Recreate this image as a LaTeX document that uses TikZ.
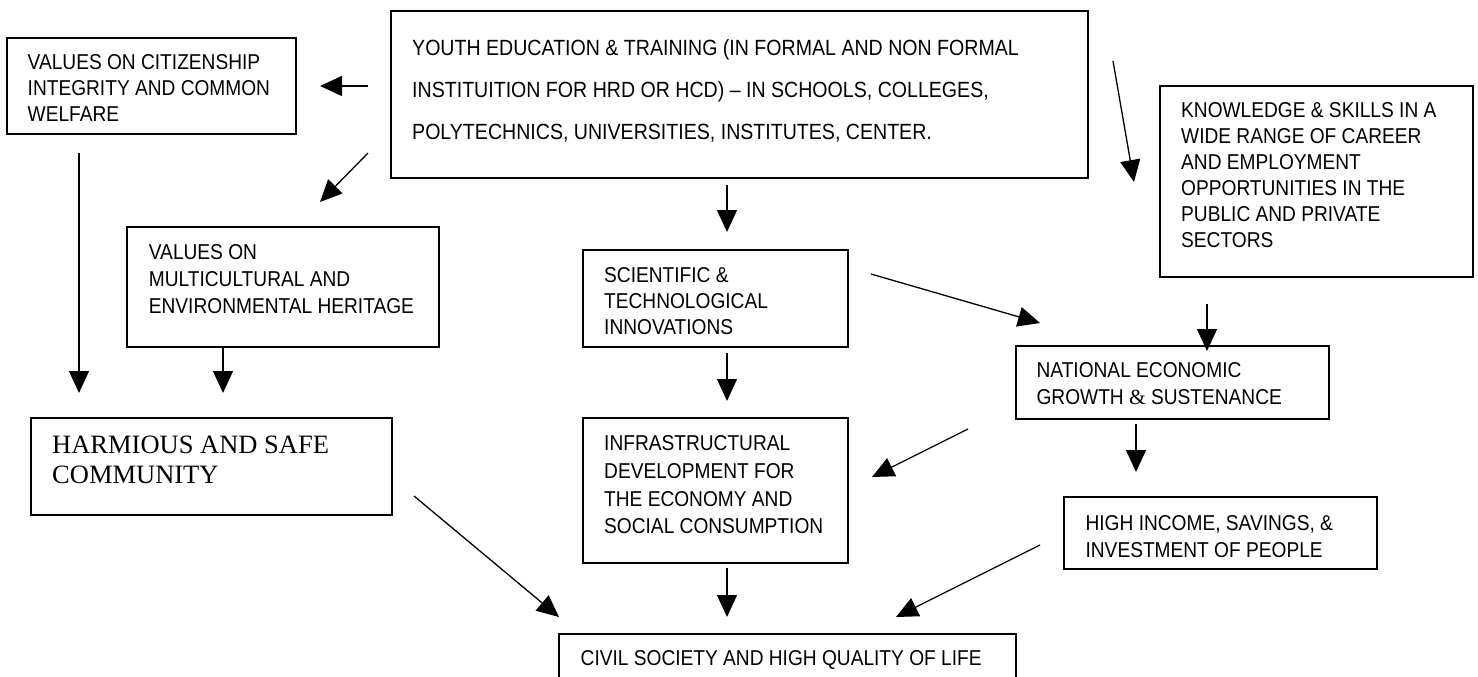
\documentclass[tikz,border=0pt]{standalone}
\usepackage{fontspec}
\usetikzlibrary{arrows.meta}
\newfontfamily\boxsans[FakeStretch=0.89]{Liberation Sans}
\newfontfamily\boxserif{Liberation Serif}
\begin{document}
\begin{tikzpicture}[x=1pt,y=-1pt,
  box/.style={draw, line width=1.4pt, inner sep=0pt},
  txt/.style={anchor=north west, inner sep=0pt, align=left,
    font=\boxsans\fontsize{21.5}{26}\selectfont},
  arr/.style={line width=1.3pt, -{Triangle[length=22pt,width=20pt]}}]
\clip (0,0) rectangle (1478,677);

% boxes
\node[box, minimum width=289pt, minimum height=96pt]  (values) at (151.5,86) {};
\node[box, minimum width=697pt, minimum height=167pt] (youth)  at (739.5,94.5) {};
\node[box, minimum width=313pt, minimum height=191pt] (know)   at (1316.5,181.5) {};
\node[box, minimum width=312pt, minimum height=120pt] (multi)  at (283,287) {};
\node[box, minimum width=265pt, minimum height=97pt]  (sci)    at (715.5,298.5) {};
\node[box, minimum width=313pt, minimum height=73pt]  (natl)   at (1172.5,382.5) {};
\node[box, minimum width=361pt, minimum height=97pt]  (harm)   at (211.5,466.5) {};
\node[box, minimum width=265pt, minimum height=145pt] (infra)  at (715.5,490.5) {};
\node[box, minimum width=313pt, minimum height=72pt]  (high)   at (1220.5,533) {};
\node[box, minimum width=457pt, minimum height=86pt]  (civil)  at (787.5,677) {};

% box texts
\node[txt] (values-t) at (27.5,54) {VALUES ON CITIZENSHIP\\INTEGRITY AND COMMON\\WELFARE};
\node[txt, font=\boxsans\fontsize{22}{41.7}\selectfont] (youth-t) at (412,39.8)
  {YOUTH EDUCATION \& TRAINING (IN FORMAL AND NON FORMAL\\
   INSTITUITION FOR HRD OR HCD) – IN SCHOOLS, COLLEGES,\\
   POLYTECHNICS, UNIVERSITIES, INSTITUTES, CENTER.};
\node[txt] (know-t) at (1181,102.3) {KNOWLEDGE \& SKILLS IN A\\WIDE RANGE OF CAREER\\AND EMPLOYMENT\\OPPORTUNITIES IN THE\\PUBLIC AND PRIVATE\\SECTORS};
\node[txt, font=\boxsans\fontsize{21.5}{27.2}\selectfont] (multi-t) at (148.7,244) {VALUES ON\\MULTICULTURAL AND\\ENVIRONMENTAL HERITAGE};
\node[txt] (sci-t) at (604,267.3) {SCIENTIFIC \&\\TECHNOLOGICAL\\INNOVATIONS};
\node[txt, font=\boxsans\fontsize{21.5}{26.7}\selectfont] (natl-t) at (1036.4,362.3) {NATIONAL ECONOMIC\\GROWTH {\boxserif\&} SUSTENANCE};
\node[txt, font=\boxserif\fontsize{26.5}{30}\selectfont] (harm-t) at (52,436.2) {HARMIOUS AND SAFE\\COMMUNITY};
\node[txt, font=\boxsans\fontsize{21.5}{27.6}\selectfont] (infra-t) at (604,435.6) {INFRASTRUCTURAL\\DEVELOPMENT FOR\\THE ECONOMY AND\\SOCIAL CONSUMPTION};
\node[txt, font=\boxsans\fontsize{21.5}{27.3}\selectfont] (high-t) at (1085.4,515) {HIGH INCOME, SAVINGS, \&\\INVESTMENT OF PEOPLE};
\node[txt] (civil-t) at (580.5,650.6) {CIVIL SOCIETY AND HIGH QUALITY OF LIFE};

% arrow end points
\coordinate (a1s) at (368,86);    \coordinate (a1e) at (320,86);
\coordinate (a2s) at (368,153);   \coordinate (a2e) at (320,202);
\coordinate (a3s) at (727,185);   \coordinate (a3e) at (727,232);
\coordinate (a4s) at (1113,61);   \coordinate (a4e) at (1134,182);
\coordinate (a5s) at (79,153);    \coordinate (a5e) at (79,393);
\coordinate (a6e) at (223,393);
\coordinate (a7s) at (871,274);   \coordinate (a7e) at (1040,323);
\coordinate (a8s) at (1207,304);  \coordinate (a8e) at (1207,351);
\coordinate (a9s) at (727,353);   \coordinate (a9e) at (727,401);
\coordinate (a10s) at (968,429);  \coordinate (a10e) at (872,477);
\coordinate (a11s) at (1136,424); \coordinate (a11e) at (1136,472);
\coordinate (a12s) at (414,496);  \coordinate (a12e) at (559,617);
\coordinate (a13s) at (727,568);  \coordinate (a13e) at (727,617);
\coordinate (a14s) at (1040,545); \coordinate (a14e) at (896,617);

% connectors
\draw[arr] (a1s) -- (a1e);
\draw[arr] (a2s) -- (a2e);
\draw[arr] (a3s) -- (a3e);
\draw[arr] (a4s) -- (a4e);
\draw[arr] (a5s) -- (a5e);
\draw[arr] (multi.south -| a6e) -- (a6e);
\draw[arr] (a7s) -- (a7e);
\draw[arr] (a8s) -- (a8e);
\draw[arr] (a9s) -- (a9e);
\draw[arr] (a10s) -- (a10e);
\draw[arr] (a11s) -- (a11e);
\draw[arr] (a12s) -- (a12e);
\draw[arr] (a13s) -- (a13e);
\draw[arr] (a14s) -- (a14e);
\end{tikzpicture}
\end{document}
